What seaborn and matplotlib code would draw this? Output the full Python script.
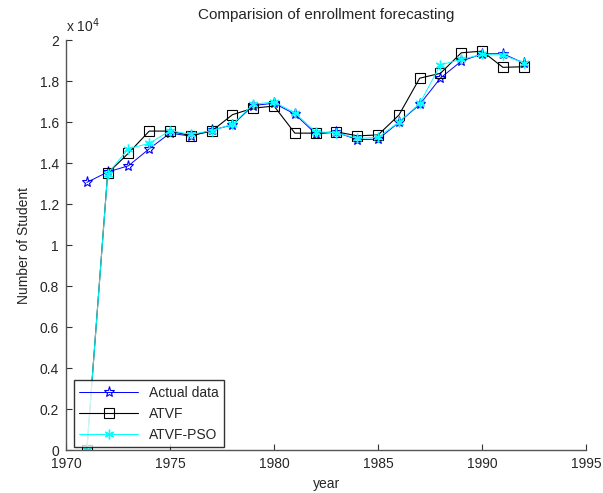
import matplotlib
matplotlib.use("Agg")
import matplotlib.pyplot as plt
import seaborn as sns
import pandas as pd

# enrollment data, number of students
years = list(range(1971, 1993))
actual = [13055, 13563, 13867, 14696, 15460, 15311, 15603, 15861, 16807, 16919, 16388,
          15433, 15497, 15145, 15163, 15984, 16859, 18150, 18970, 19328, 19337, 18876]
atvf = [0, 13500, 14480, 15560, 15560, 15340, 15560, 16360, 16680, 16780, 15460,
        15460, 15520, 15330, 15370, 16340, 18140, 18380, 19380, 19460, 18670, 18700]
atvf_pso = [0, 13480, 14700, 14960, 15580, 15400, 15580, 15890, 16870, 16980, 16450,
            15520, 15480, 15200, 15250, 16000, 16910, 18790, 19060, 19300, 19270, 18890]

df = pd.DataFrame({"year": years, "Actual data": actual, "ATVF": atvf, "ATVF-PSO": atvf_pso})
df_scaled = df.copy()
for col in ["Actual data", "ATVF", "ATVF-PSO"]:
    df_scaled[col] = df_scaled[col] / 1e4

sns.set_style("white")
plt.rcParams["font.family"] = ["Liberation Sans", "DejaVu Sans"]

fig = plt.figure(figsize=(6.03, 4.93), dpi=100)
ax = fig.add_axes([0.1095, 0.0872, 0.8625, 0.8315])

sns.lineplot(data=df_scaled, x="year", y="Actual data", ax=ax, color="blue", lw=0.7,
             marker="*", markersize=8, markerfacecolor="none", markeredgecolor="blue",
             markeredgewidth=0.8, label="Actual data")
sns.lineplot(data=df_scaled, x="year", y="ATVF", ax=ax, color="black", lw=0.8,
             marker="s", markersize=7, markerfacecolor="none", markeredgecolor="black",
             markeredgewidth=0.8, label="ATVF")
sns.lineplot(data=df_scaled, x="year", y="ATVF-PSO", ax=ax, color="cyan", lw=0.7,
             marker=(6, 2, 0), markersize=7, markeredgecolor="cyan",
             markeredgewidth=1.0, label="ATVF-PSO")

ax.set_xlim(1970, 1995)
ax.set_ylim(0, 2)
ax.set_xticks(range(1970, 1996, 5))
yt = [i / 5 for i in range(11)]
ax.set_yticks(yt)
ax.set_yticklabels(["%g" % v for v in yt])

for side in ["top", "right"]:
    ax.spines[side].set_visible(False)
for side in ["left", "bottom"]:
    ax.spines[side].set_color("#555555")
    ax.spines[side].set_linewidth(1.0)
ax.tick_params(bottom=True, left=True, direction="in", length=4, width=0.8,
               color="#333333", labelsize=10, pad=5)

ax.set_title("Comparision of enrollment forecasting", fontsize=11, pad=15)
ax.set_xlabel("year", fontsize=10, labelpad=4)
ax.set_ylabel("Number of Student", fontsize=10, labelpad=6)
ax.text(0.0, 1.012, r"x 10$^4$", transform=ax.transAxes, fontsize=10, ha="left", va="bottom")

leg = ax.legend(loc="lower left", bbox_to_anchor=(0.015, 0.007), frameon=True, fancybox=False,
                fontsize=10, handlelength=4.2, borderpad=0.4, labelspacing=0.5,
                borderaxespad=0)
leg.get_frame().set_edgecolor("black")
leg.get_frame().set_linewidth(1.0)

fig.savefig("out.png", dpi=100)
